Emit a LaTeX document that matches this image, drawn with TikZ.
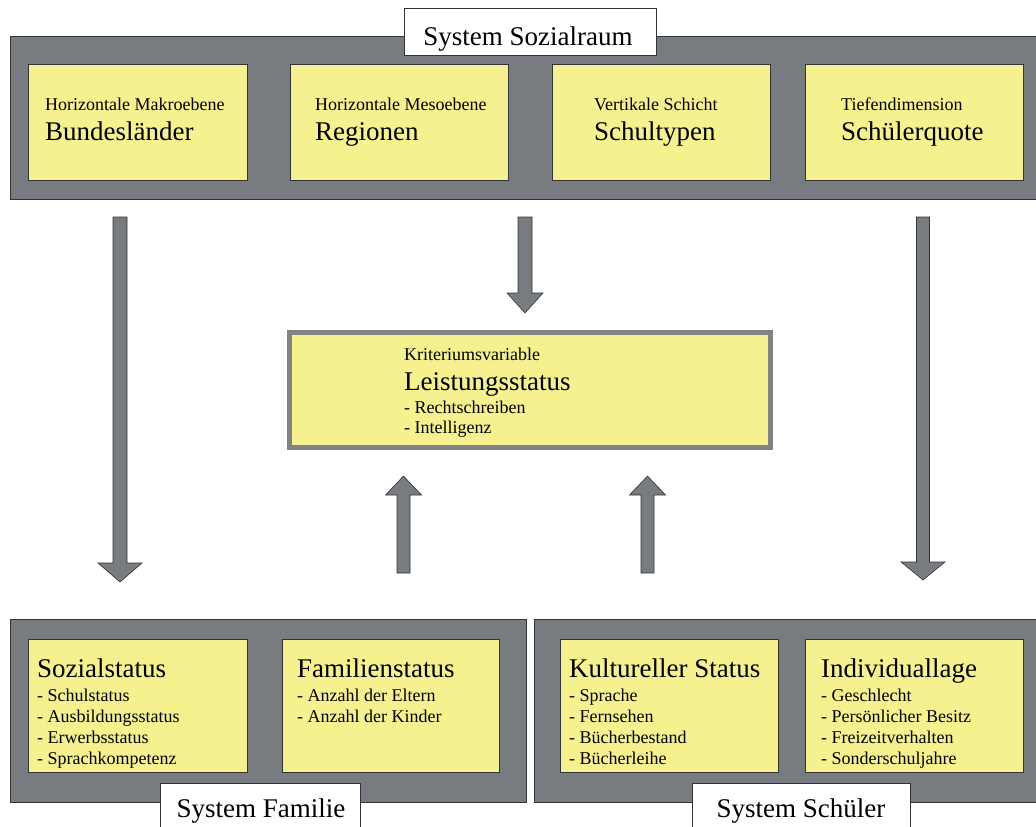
\documentclass[tikz,border=0pt]{standalone}
\usepackage{fontspec}
\setmainfont{Liberation Serif}
\definecolor{panelgray}{RGB}{120,124,128}
\definecolor{boxyellow}{RGB}{245,241,142}
\definecolor{framegray}{RGB}{128,130,132}
\definecolor{edgedark}{RGB}{50,52,54}
\newcommand\fsS{\fontsize{18}{21}\selectfont}
\newcommand\fsL{\fontsize{27}{30}\selectfont}
% x, y start, y head base, y tip, half shaft, half head
\newcommand\myvarrow[6]{\draw[blockarrow] (#1-#5,#2) -- (#1+#5,#2) -- (#1+#5,#3) -- (#1+#6,#3) -- (#1,#4) -- (#1-#6,#3) -- (#1-#5,#3) -- cycle;}
\begin{document}
\begin{tikzpicture}[x=1pt,y=-1pt,
  panel/.style={draw=edgedark, fill=panelgray, line width=0.8pt, inner sep=0pt, outer sep=0pt, anchor=north west},
  ybox/.style={draw=edgedark, fill=boxyellow, line width=0.8pt, inner sep=0pt, outer sep=0pt, anchor=north west},
  titlebox/.style={draw=edgedark, fill=white, line width=0.8pt, inner sep=0pt, outer sep=0pt, anchor=north west},
  small/.style={font=\fsS, inner sep=0pt, anchor=base west},
  large/.style={font=\fsL, inner sep=0pt, anchor=base west},
  ttl/.style={font=\fsL, inner sep=0pt, anchor=base},
  blockarrow/.style={draw=edgedark, fill=panelgray, line width=0.6pt, line join=miter}]
\useasboundingbox (0,0) rectangle (1036,827);
\fill[white] (0,0) rectangle (1036,827);
\clip (0,0) rectangle (1036,827);

% ---------- top panel ----------
\node[panel, minimum width=1030pt, minimum height=163pt] (top) at (10,36) {};
\node[ybox, minimum width=219pt, minimum height=116pt] (t1) at (28,64) {};
\node[ybox, minimum width=218pt, minimum height=116pt] (t2) at (290,64) {};
\node[ybox, minimum width=218pt, minimum height=116pt] (t3) at (552,64) {};
\node[ybox, minimum width=218pt, minimum height=116pt] (t4) at (805,64) {};
\node[small] (t1a) at (45,110) {Horizontale Makroebene};
\node[large] (t1b) at (45,140) {Bundesländer};
\node[small] (t2a) at (315,110) {Horizontale Mesoebene};
\node[large] (t2b) at (315,140) {Regionen};
\node[small] (t3a) at (594,110) {Vertikale Schicht};
\node[large] (t3b) at (594,140) {Schultypen};
\node[small] (t4a) at (841,110) {Tiefendimension};
\node[large] (t4b) at (841,140) {Schülerquote};
\node[titlebox, minimum width=252pt, minimum height=47pt] (ttop) at (404,8) {};
\node[ttl] (ttopt) at (528,45) {System Sozialraum};

% ---------- middle box ----------
\node[draw=framegray, fill=boxyellow, line width=5pt, inner sep=0pt, outer sep=0pt, anchor=north west,
      minimum width=481pt, minimum height=115pt] (mid) at (289.5,332.5) {};
\node[small] (m1) at (404,360) {Kriteriumsvariable};
\node[large] (m2) at (404,390) {Leistungsstatus};
\node[small] (m3) at (404,413) {- Rechtschreiben};
\node[small] (m4) at (404,433) {- Intelligenz};

% ---------- bottom panels ----------
\node[panel, minimum width=516pt, minimum height=183pt] (famp) at (10,619) {};
\node[panel, minimum width=506pt, minimum height=183pt] (schp) at (534,619) {};
\node[ybox, minimum width=219pt, minimum height=133pt] (b1) at (28,639) {};
\node[ybox, minimum width=217pt, minimum height=133pt] (b2) at (282,639) {};
\node[ybox, minimum width=218pt, minimum height=133pt] (b3) at (560,639) {};
\node[ybox, minimum width=218pt, minimum height=133pt] (b4) at (805,639) {};

\node[large] (b1h) at (37,677) {Sozialstatus};
\node[small] (b1i) at (37,701) {- Schulstatus};
\node[small] (b1j) at (37,722) {- Ausbildungsstatus};
\node[small] (b1k) at (37,743) {- Erwerbsstatus};
\node[small] (b1l) at (37,764) {- Sprachkompetenz};

\node[large] (b2h) at (297,677) {Familienstatus};
\node[small] (b2i) at (297,701) {- Anzahl der Eltern};
\node[small] (b2j) at (297,722) {- Anzahl der Kinder};

\node[large] (b3h) at (569,677) {Kultureller Status};
\node[small] (b3i) at (569,701) {- Sprache};
\node[small] (b3j) at (569,722) {- Fernsehen};
\node[small] (b3k) at (569,743) {- Bücherbestand};
\node[small] (b3l) at (569,764) {- Bücherleihe};

\node[large] (b4h) at (821,677) {Individuallage};
\node[small] (b4i) at (821,701) {- Geschlecht};
\node[small] (b4j) at (821,722) {- Persönlicher Besitz};
\node[small] (b4k) at (821,743) {- Freizeitverhalten};
\node[small] (b4l) at (821,764) {- Sonderschuljahre};

\node[titlebox, minimum width=200pt, minimum height=60pt] (tfam) at (160,783) {};
\node[ttl] (tfamt) at (261,817) {System Familie};
\node[titlebox, minimum width=218pt, minimum height=60pt] (tsch) at (692,783) {};
\node[ttl] (tscht) at (801,817) {System Schüler};

% ---------- arrows ----------
\myvarrow{120}{217}{563}{582}{7}{22}
\myvarrow{923}{217}{562}{580}{6.5}{22}
\myvarrow{525}{217}{293}{313}{7}{18}
\myvarrow{403.5}{573}{495}{476}{6.5}{18}
\myvarrow{647.5}{573}{495}{476}{6.5}{18}
\end{tikzpicture}
\end{document}
